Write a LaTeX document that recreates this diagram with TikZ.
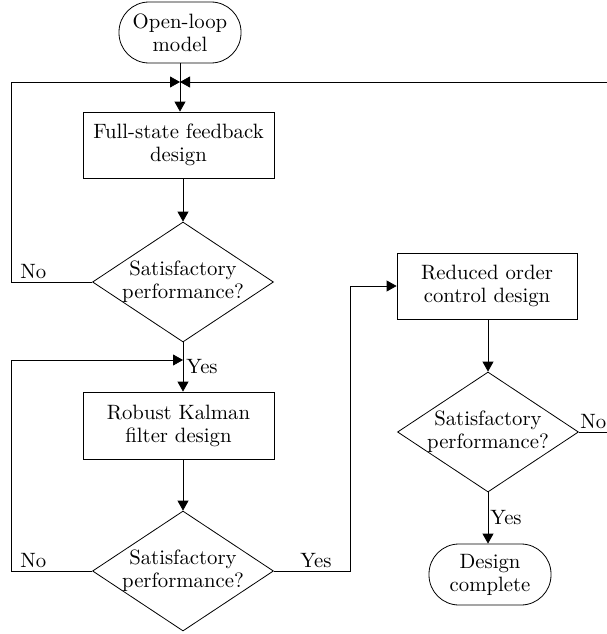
\documentclass[tikz,border=0pt]{standalone}
\usepackage{fontspec}
\setmainfont{lmroman10-regular}[Extension=.otf]
\usetikzlibrary{arrows.meta,shapes.geometric}
\begin{document}
\begin{tikzpicture}[x=1pt,y=-1pt,
  every node/.style={font=\fontsize{20.74}{23}\selectfont},
  line/.style={line width=0.8pt},
  arr/.style={line width=0.8pt,-{Triangle[length=10pt,width=11pt]}},
  box/.style={draw,line width=0.8pt,rectangle,minimum width=191pt,minimum height=66pt,align=center,inner sep=0pt},
  stad/.style={draw,line width=0.8pt,rectangle,rounded corners=30pt,minimum width=122pt,minimum height=61pt,align=center,inner sep=0pt},
  dia/.style={draw,line width=0.8pt,diamond,aspect=1.5,minimum width=181pt,minimum height=120pt,inner sep=0pt},
  lbl/.style={inner sep=0pt}
]
\useasboundingbox (0,0) rectangle (607,634);
\clip (0,0) rectangle (607,634);

\node[stad] (open) at (180,32.5) {Open-loop\\model};
\node[box] (box1) at (178.5,145) {Full-state feedback\\design};
\node[dia,label={[align=center]center:Satisfactory\\performance?}] (d1) at (183,282) {};
\node[box,minimum height=67pt] (box2) at (178.5,425.5) {Robust Kalman\\filter design};
\node[dia,label={[align=center]center:Satisfactory\\performance?}] (d2) at (183,571) {};
\node[box,minimum width=180pt] (box3) at (487,286) {Reduced order\\control design};
\node[dia,label={[align=center]center:Satisfactory\\performance?}] (d3) at (488,432) {};
\node[stad] (done) at (490,574.5) {Design\\complete};

\coordinate (jn) at (180,82);
\coordinate (j2) at (183,360);
\coordinate (l1) at (11,282);
\coordinate (l2) at (11,571);
\coordinate (r2) at (350,571);
\coordinate (r3) at (625,432);

% main flow
\draw[arr] (open) -- (open |- box1.north);
\draw[arr] (box1.south -| d1) -- (d1.north);
\draw[arr] (d1.south) -- (d1 |- box2.north)
  node[midway,anchor=west,inner sep=3pt] {Yes};
\draw[arr] (box2.south -| d2) -- (d2.north);
\draw[arr] (box3.south -| d3) -- (d3.north);
\draw[arr] (d3.south) -- (d3.south |- done.north)
  node[midway,anchor=west,inner sep=2pt] {Yes};

% loops
\draw[arr] (d1.west) -- (l1) node[anchor=south west,lbl,xshift=9pt,yshift=3pt] {No} |- (jn);
\draw[arr] (d2.west) -- (l2) node[anchor=south west,lbl,xshift=9pt,yshift=3pt] {No} |- (j2);
\draw[arr] (d2.east) -- (r2) node[anchor=south east,lbl,xshift=-18pt,yshift=3pt] {Yes} |- (box3.west);
\draw[arr] (d3.east) node[anchor=south west,lbl,xshift=1pt,yshift=3pt] {No} -- (r3) |- (jn);
\end{tikzpicture}
\end{document}
